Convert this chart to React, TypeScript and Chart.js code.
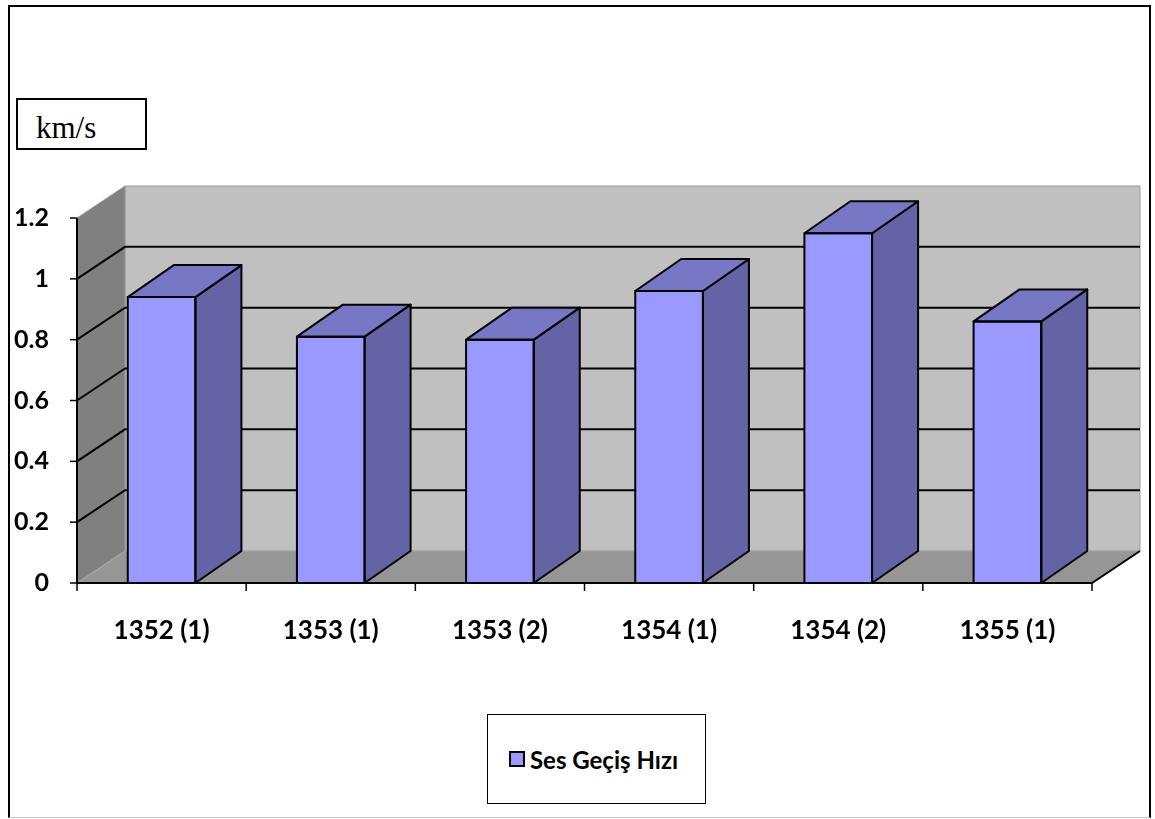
import React, { useEffect, useRef } from 'react';
import { Chart, registerables } from 'chart.js';

Chart.register(...registerables);

const categories = ['1352 (1)', '1353 (1)', '1353 (2)', '1354 (1)', '1354 (2)', '1355 (1)'];
const sesGecisHizi = [0.94, 0.81, 0.8, 0.96, 1.15, 0.86];
const yTickValues = [0, 0.2, 0.4, 0.6, 0.8, 1, 1.2];
const seriesName = 'Ses Geçiş Hızı';
const unitLabel = 'km/s';

const WALL_DX = 48;
const WALL_DY = -32;
const BAR_DX = 46;
const BAR_DY = -32;
const FONT = 'Lato, "Open Sans", sans-serif';

type Pt = [number, number];

function poly(ctx: CanvasRenderingContext2D, pts: Pt[], fill: string | null, stroke: string | null, lw: number) {
  ctx.beginPath();
  ctx.moveTo(pts[0][0], pts[0][1]);
  for (let i = 1; i < pts.length; i++) ctx.lineTo(pts[i][0], pts[i][1]);
  ctx.closePath();
  if (fill) {
    ctx.fillStyle = fill;
    ctx.fill();
  }
  if (stroke) {
    ctx.strokeStyle = stroke;
    ctx.lineWidth = lw;
    ctx.stroke();
  }
}

function line(ctx: CanvasRenderingContext2D, pts: Pt[], stroke: string, lw: number) {
  ctx.beginPath();
  ctx.moveTo(pts[0][0], pts[0][1]);
  for (let i = 1; i < pts.length; i++) ctx.lineTo(pts[i][0], pts[i][1]);
  ctx.strokeStyle = stroke;
  ctx.lineWidth = lw;
  ctx.stroke();
}

const threeD = {
  id: 'threeD',
  beforeDatasetsDraw(chart: any) {
    const ctx: CanvasRenderingContext2D = chart.ctx;
    const { left: L, right: R, top: T, bottom: B } = chart.chartArea;
    const ys = chart.scales.y;
    const dx = WALL_DX;
    const dy = WALL_DY;
    ctx.save();
    ctx.lineJoin = 'miter';
    // back wall
    poly(ctx, [[L + dx, T + dy], [R + dx, T + dy], [R + dx, B + dy], [L + dx, B + dy]], '#C0C0C0', '#9a9a9a', 1);
    // side wall
    poly(ctx, [[L, T], [L + dx, T + dy], [L + dx, B + dy], [L, B]], '#808080', '#9a9a9a', 1);
    // floor
    poly(ctx, [[L, B], [R, B], [R + dx, B + dy], [L + dx, B + dy]], '#969696', null, 1);
    line(ctx, [[L, B], [L + dx, B + dy], [R + dx, B + dy]], '#a8a8a8', 1);
    // gridlines
    const maxV = yTickValues[yTickValues.length - 1];
    yTickValues.forEach((v) => {
      if (v <= 0 || v >= maxV) return;
      const py = ys.getPixelForValue(v);
      line(ctx, [[L, py], [L + dx, py + dy], [R + dx, py + dy]], '#000', 2);
    });
    // floor front & right edge
    line(ctx, [[L, B], [R, B], [R + dx, B + dy]], '#000', 2);
    // y axis
    line(ctx, [[L, T], [L, B + 1]], '#000', 2);
    yTickValues.forEach((v) => {
      const py = ys.getPixelForValue(v);
      line(ctx, [[L - 7, py], [L, py]], '#000', 1.5);
    });
    // x ticks at category boundaries
    const n = categories.length;
    for (let i = 0; i <= n; i++) {
      const px = L + (i * (R - L)) / n;
      line(ctx, [[px, B], [px, B + 8]], '#000', 1.5);
    }
    ctx.restore();
  },
  afterDatasetsDraw(chart: any) {
    const ctx: CanvasRenderingContext2D = chart.ctx;
    const meta = chart.getDatasetMeta(0);
    ctx.save();
    ctx.lineJoin = 'round';
    meta.data.forEach((bar: any) => {
      const { x, y, width, base } = bar.getProps(['x', 'y', 'width', 'base'], true);
      const l = x - width / 2;
      const r = x + width / 2;
      poly(ctx, [[r, y], [r + BAR_DX, y + BAR_DY], [r + BAR_DX, base + BAR_DY], [r, base]], '#6363A6', '#000', 2);
      poly(ctx, [[l, y], [r, y], [r + BAR_DX, y + BAR_DY], [l + BAR_DX, y + BAR_DY]], '#7777C6', '#000', 2);
      poly(ctx, [[l, y], [r, y], [r, base], [l, base]], null, '#000', 2);
    });
    ctx.restore();
  },
};

export default function App() {
  const canvasRef = useRef<HTMLCanvasElement | null>(null);

  useEffect(() => {
    if (!canvasRef.current) return;
    const chart = new Chart(canvasRef.current, {
      type: 'bar',
      data: {
        labels: categories,
        datasets: [
          {
            label: seriesName,
            data: sesGecisHizi,
            backgroundColor: '#9999FF',
            borderWidth: 0,
            barPercentage: 0.4,
            categoryPercentage: 1,
          },
        ],
      },
      options: {
        responsive: false,
        animation: false,
        devicePixelRatio: 1,
        layout: { padding: { left: 0, top: 218, right: 63, bottom: 0 } },
        plugins: {
          legend: { display: false },
          tooltip: { enabled: false },
          title: { display: false },
        },
        scales: {
          x: {
            grid: { display: false, drawTicks: false },
            border: { display: false },
            ticks: {
              color: '#000',
              font: { family: FONT, size: 26, weight: 'bold' },
              padding: 32,
              maxRotation: 0,
            },
            afterFit: (scale: any) => {
              scale.height = 236;
            },
          },
          y: {
            min: 0,
            max: 1.2,
            grid: { display: false, drawTicks: false },
            border: { display: false },
            ticks: {
              stepSize: 0.2,
              color: '#000',
              font: { family: FONT, size: 25, weight: 'bold' },
              padding: 28,
              callback: (v: any) => String(Math.round(Number(v) * 10) / 10),
            },
            afterFit: (scale: any) => {
              scale.width = 77;
            },
          },
        },
      },
      plugins: [threeD],
    });
    return () => chart.destroy();
  }, []);

  return (
    <div style={{ position: 'absolute', left: 0, top: 0, width: 1155, height: 819, background: '#fff', overflow: 'hidden' }}>
      <canvas ref={canvasRef} width={1155} height={819} style={{ position: 'absolute', left: 0, top: 0, width: 1155, height: 819 }} />
      <div
        style={{
          position: 'absolute',
          left: 8,
          top: 5,
          width: 1143,
          height: 813,
          boxSizing: 'border-box',
          borderLeft: '2px solid #000',
          borderTop: '2px solid #000',
          borderRight: '2px solid #000',
          borderBottom: '1px solid #c8c8c8',
          pointerEvents: 'none',
        }}
      />
      <div
        style={{
          position: 'absolute',
          left: 16,
          top: 98,
          width: 131,
          height: 52,
          boxSizing: 'border-box',
          border: '2px solid #000',
          background: '#fff',
        }}
      >
        <span
          style={{
            position: 'absolute',
            left: 18,
            top: 13,
            fontFamily: '"Liberation Serif", "Times New Roman", serif',
            fontSize: 31,
            lineHeight: '30px',
            color: '#000',
            whiteSpace: 'nowrap',
          }}
        >
          {unitLabel}
        </span>
      </div>
      <div
        style={{
          position: 'absolute',
          left: 487,
          top: 714,
          width: 219,
          height: 90,
          boxSizing: 'border-box',
          border: '1px solid #000',
          background: '#fff',
          display: 'flex',
          alignItems: 'center',
          justifyContent: 'center',
        }}
      >
        <span
          style={{
            display: 'inline-block',
            width: 16,
            height: 16,
            boxSizing: 'border-box',
            border: '2px solid #000',
            background: '#9999FF',
            marginRight: 5,
            marginLeft: -6,
          }}
        />
        <span style={{ fontFamily: FONT, fontWeight: 'bold', fontSize: 24, color: '#000', whiteSpace: 'nowrap' }}>{seriesName}</span>
      </div>
    </div>
  );
}
